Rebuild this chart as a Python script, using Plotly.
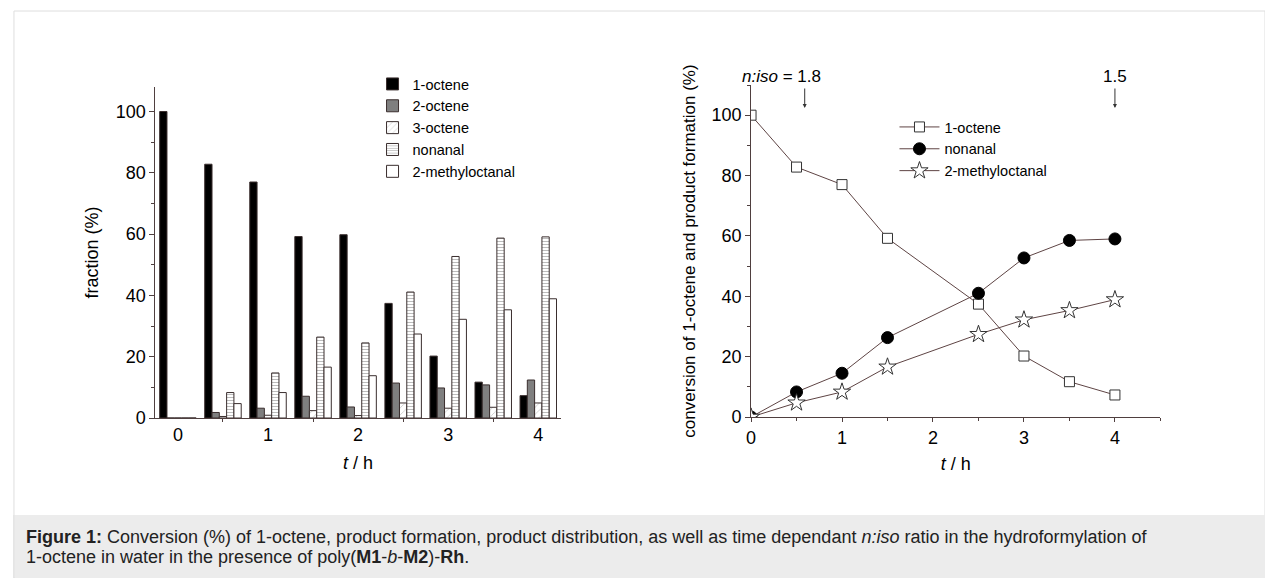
import plotly.graph_objects as go

# ---------------- data ----------------
t_bar = [0, 0.5, 1, 1.5, 2, 2.5, 3, 3.5, 4]
oct1_bar = [100, 82.8, 77.0, 59.2, 59.8, 37.4, 20.2, 11.7, 7.3]
oct2_bar = [0, 1.8, 3.2, 7.1, 3.6, 11.4, 9.8, 10.8, 12.4]
oct3_bar = [0, 0.5, 0.9, 2.4, 0.8, 4.9, 3.2, 3.5, 4.9]
nonanal_bar = [0, 8.3, 14.7, 26.4, 24.5, 41.1, 52.7, 58.7, 59.1]
methyl_bar = [0, 4.7, 8.3, 16.6, 13.8, 27.4, 32.2, 35.3, 38.9]

t_line = [0, 0.5, 1, 1.5, 2.5, 3, 3.5, 4]
oct1_line = [100, 82.8, 77.0, 59.2, 37.4, 20.2, 11.7, 7.3]
nonanal_line = [0, 8.3, 14.5, 26.3, 41.0, 52.7, 58.5, 59.0]
methyl_line = [0, 4.7, 8.3, 16.6, 27.4, 32.2, 35.3, 38.9]

x_ticks = [0, 1, 2, 3, 4]
y_ticks = [0, 20, 40, 60, 80, 100]

niso_labels = ["<i>n:iso</i> = 1.8", "1.5"]
niso_t = [0.59, 4.0]
niso_text_t = [0.33, 4.0]

FONT = "Liberation Sans, Arial, sans-serif"
AX = "#4f3f3f"
EDGE = "#3a2e2e"
W, H = 1265, 588
REF_W, REF_H = 1265, 578

def px_x(p):
    return p / REF_W

def px_y(p):
    return 1 - p / REF_H

fig = go.Figure()

bar_specs = [
    ("1-octene", oct1_bar, dict(color="black")),
    ("2-octene", oct2_bar, dict(color="#7f7f7f")),
    ("3-octene", oct3_bar, dict(color="white",
                                 pattern=dict(shape="/", fgcolor="#8a8a8a", bgcolor="white",
                                              size=5, solidity=0.15))),
    ("nonanal", nonanal_bar, dict(color="white",
                                  pattern=dict(shape="-", fgcolor="#6a6a6a", bgcolor="white",
                                               size=3, solidity=0.3))),
    ("2-methyloctanal", methyl_bar, dict(color="white")),
]
for name, vals, mk in bar_specs:
    mk = dict(mk)
    mk["line"] = dict(color=EDGE, width=1)
    fig.add_trace(go.Bar(x=t_bar, y=vals, name=name, marker=mk,
                         xaxis="x", yaxis="y", legend="legend"))

line_specs = [
    ("1-octene", oct1_line, dict(symbol="square", size=10, color="white",
                                  line=dict(color="#333", width=1))),
    ("nonanal", nonanal_line, dict(symbol="circle", size=12, color="black",
                                   line=dict(color="black", width=1))),
    ("2-methyloctanal", methyl_line, dict(symbol="star", size=13, color="white",
                                          line=dict(color="#333", width=1))),
]
for name, vals, mk in line_specs:
    fig.add_trace(go.Scatter(x=t_line, y=vals, name=name, mode="lines+markers",
                             line=dict(color="#5e4444", width=1), marker=mk,
                             xaxis="x2", yaxis="y2", legend="legend2"))

TICKFONT = dict(family=FONT, size=18, color="black")
TITLEFONT = dict(family=FONT, size=18, color="black")

def ax(**kw):
    base = dict(showline=True, linecolor=AX, linewidth=1, showgrid=False,
                zeroline=False, tickfont=TICKFONT, tickcolor=AX, ticks="outside")
    base.update(kw)
    return base

fig.update_layout(
    width=W, height=H, autosize=False,
    margin=dict(l=0, r=0, t=0, b=0),
    paper_bgcolor="white", plot_bgcolor="white",
    font=dict(family=FONT, size=16, color="black"),
    barmode="group", bargap=0.19, bargroupgap=0,
    xaxis=ax(domain=[px_x(151), px_x(558)], range=[-0.25, 4.25],
             tickvals=x_ticks, ticklen=0, ticklabelstandoff=0,
             minor=dict(tick0=0.5, dtick=1, ticks="outside", ticklen=3, tickcolor=AX),
             title=dict(text="<i>t</i> / h", standoff=12, font=TITLEFONT),
             anchor="y"),
    yaxis=ax(domain=[px_y(418), px_y(87)], range=[0, 108],
             tickvals=y_ticks, ticklen=5,
             minor=dict(dtick=10, ticks="outside", ticklen=3, tickcolor=AX),
             title=dict(text="fraction (%)", standoff=12, font=TITLEFONT),
             anchor="x"),
    xaxis2=ax(domain=[px_x(749), px_x(1160)], range=[0, 4.5],
              tickvals=x_ticks, ticklen=4, ticklabelstandoff=0,
              minor=dict(dtick=0.5, ticks="outside", ticklen=3, tickcolor=AX),
              title=dict(text="<i>t</i> / h", standoff=10, font=TITLEFONT),
              anchor="y2"),
    yaxis2=ax(domain=[px_y(417), px_y(85)], range=[0, 110],
              tickvals=y_ticks, ticklen=5,
              minor=dict(dtick=10, ticks="outside", ticklen=3, tickcolor=AX),
              title=dict(text="conversion of 1-octene and product formation (%)",
                         standoff=11, font=dict(family=FONT, size=17, color="black")),
              anchor="x2"),
    legend=dict(x=px_x(369), y=px_y(68), xanchor="left", yanchor="top",
                bgcolor="rgba(0,0,0,0)", font=dict(family=FONT, size=14.5),
                tracegroupgap=0, itemwidth=30),
    legend2=dict(x=px_x(893), y=px_y(111), xanchor="left", yanchor="top",
                 bgcolor="rgba(0,0,0,0)", font=dict(family=FONT, size=14.5),
                 tracegroupgap=0, itemwidth=40),
    showlegend=True,
)

# figure frame and caption band
fig.add_shape(type="rect", xref="paper", yref="paper",
              x0=px_x(9), x1=1.0, y0=0, y1=px_y(11),
              line=dict(color="#dedede", width=1), fillcolor="white", layer="below")
fig.add_shape(type="rect", xref="paper", yref="paper",
              x0=px_x(9.5), x1=1.0, y0=0, y1=px_y(515),
              line=dict(width=0), fillcolor="#ececec", layer="below")
fig.add_shape(type="line", xref="paper", yref="paper",
              x0=px_x(9), x1=px_x(9), y0=0, y1=px_y(515),
              line=dict(color="#dedede", width=1), layer="below")

# n:iso annotations
for tx in niso_t:
    fig.add_annotation(x=tx, y=px_y(108), xref="x2", yref="paper", text="",
                       showarrow=True, arrowhead=2, arrowsize=0.8, arrowwidth=1,
                       arrowcolor="#333", ax=0, ay=-21)
for lab, tx in zip(niso_labels, niso_text_t):
    fig.add_annotation(x=tx, y=px_y(77), xref="x2", yref="paper", text=lab,
                       yanchor="middle", showarrow=False,
                       font=dict(family=FONT, size=17, color="black"))

cap1 = ("<b>Figure 1:</b> Conversion (%) of 1-octene, product formation, product distribution, "
        "as well as time dependant <i>n:iso</i> ratio in the hydroformylation of")
cap2 = "1-octene in water in the presence of poly(<b>M1</b>-<i>b</i>-<b>M2</b>)-<b>Rh</b>."
for txt, yy in [(cap1, 537), (cap2, 557)]:
    fig.add_annotation(x=px_x(19), y=px_y(yy), xref="paper", yref="paper",
                       xanchor="left", yanchor="middle", align="left", showarrow=False,
                       text=txt, font=dict(family=FONT, size=18, color="#222"))

post = ("var s=document.createElement('style');"
        "s.innerHTML='html,body{margin:0;padding:0;overflow:hidden;background:#ececec;}';"
        "document.head.appendChild(s);")
fig.write_html("out.html", config={"displayModeBar": False}, post_script=post)
